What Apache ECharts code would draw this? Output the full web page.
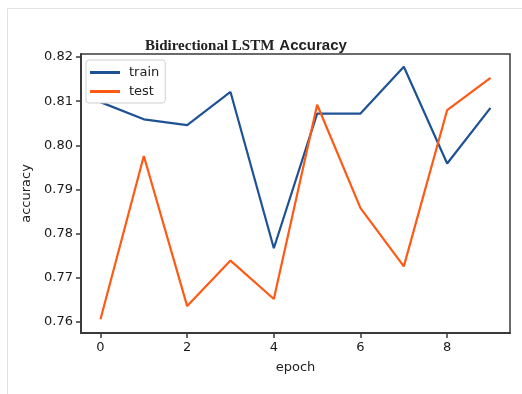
<!DOCTYPE html>
<html>
<head>
<meta charset="utf-8">
<script src="https://cdn.jsdelivr.net/npm/echarts@6/dist/echarts.min.js"></script>
<style>
  html, body { margin: 0; padding: 0; background: #fff; }
  #chart { width: 522px; height: 394px; }
</style>
</head>
<body>
<div id="chart"></div>
<script>
// Training history of a bidirectional LSTM, accuracy per epoch
const epochs = [0, 1, 2, 3, 4, 5, 6, 7, 8, 9];
const trainAcc = [0.8098, 0.8059, 0.8046, 0.8121, 0.7767, 0.8072, 0.8072, 0.8178, 0.7959, 0.8085];
const testAcc  = [0.7606, 0.7976, 0.7636, 0.7739, 0.7652, 0.8092, 0.7858, 0.7726, 0.8080, 0.8153];
const xTicks = [0, 2, 4, 6, 8];
const yTicks = [0.76, 0.77, 0.78, 0.79, 0.80, 0.81, 0.82];

const chart = echarts.init(document.getElementById('chart'), null, { renderer: 'canvas' });

const tickFont = { color: '#1a1a1a', fontSize: 13, fontFamily: 'DejaVu Sans' };
const frame = '#3a3a3a';

chart.setOption({
  animation: false,
  backgroundColor: '#fff',
  graphic: [{
    type: 'rect', left: 5, top: 6,
    shape: { width: 530, height: 400 },
    style: { fill: 'none', stroke: '#e2e2e2', lineWidth: 1 },
    silent: true
  }],
  title: {
    left: 140, top: 32,
    text: '{a|Bidirectional LSTM} {b|Accuracy}',
    textStyle: {
      rich: {
        a: { fontFamily: 'Liberation Serif', fontWeight: 'bold', fontSize: 15, color: '#222' },
        b: { fontFamily: 'Liberation Sans', fontSize: 15, color: '#222' }
      }
    }
  },
  legend: {
    left: 86, top: 60, orient: 'vertical',
    itemWidth: 30, itemHeight: 3, itemGap: 6,
    padding: [6, 6, 5, 4],
    borderColor: '#cfcfcf', borderWidth: 1, borderRadius: 3,
    backgroundColor: '#fff',
    icon: 'rect',
    textStyle: { color: '#222', fontSize: 13, fontFamily: 'DejaVu Sans', padding: [0, 0, 0, 4] },
    data: ['train', 'test']
  },
  grid: {
    left: 81, right: 12, top: 54, bottom: 61,
    show: true, borderColor: frame, borderWidth: 1.5, backgroundColor: '#fff'
  },
  xAxis: {
    type: 'value', min: -0.45, max: 9.45,
    name: 'epoch', nameLocation: 'middle', nameGap: 28,
    nameTextStyle: { color: '#222', fontSize: 13, fontFamily: 'DejaVu Sans' },
    axisLine: { show: true, onZero: false, lineStyle: { color: frame, width: 2 } },
    axisTick: { show: true, length: 5, customValues: xTicks, lineStyle: { color: frame, width: 1.5 } },
    axisLabel: Object.assign({ customValues: xTicks, margin: 8, formatter: v => String(v) }, tickFont),
    splitLine: { show: false }
  },
  yAxis: {
    type: 'value', min: 0.7575, max: 0.8207,
    name: 'accuracy', nameLocation: 'middle', nameGap: 40, nameRotate: 90,
    nameTextStyle: { color: '#222', fontSize: 13, fontFamily: 'DejaVu Sans' },
    axisLine: { show: true, onZero: false, lineStyle: { color: frame, width: 2 } },
    axisTick: { show: true, length: 5, customValues: yTicks, lineStyle: { color: frame, width: 1.5 } },
    axisLabel: Object.assign({ customValues: yTicks, margin: 8, formatter: v => v.toFixed(2) }, tickFont),
    splitLine: { show: false }
  },
  series: [
    {
      name: 'train', type: 'line', showSymbol: false,
      data: epochs.map((e, i) => [e, trainAcc[i]]),
      lineStyle: { color: '#1f5295', width: 2.2 },
      itemStyle: { color: '#1f5295' }
    },
    {
      name: 'test', type: 'line', showSymbol: false,
      data: epochs.map((e, i) => [e, testAcc[i]]),
      lineStyle: { color: '#ff5a14', width: 2.2 },
      itemStyle: { color: '#ff5a14' }
    }
  ]
});
</script>
</body>
</html>
